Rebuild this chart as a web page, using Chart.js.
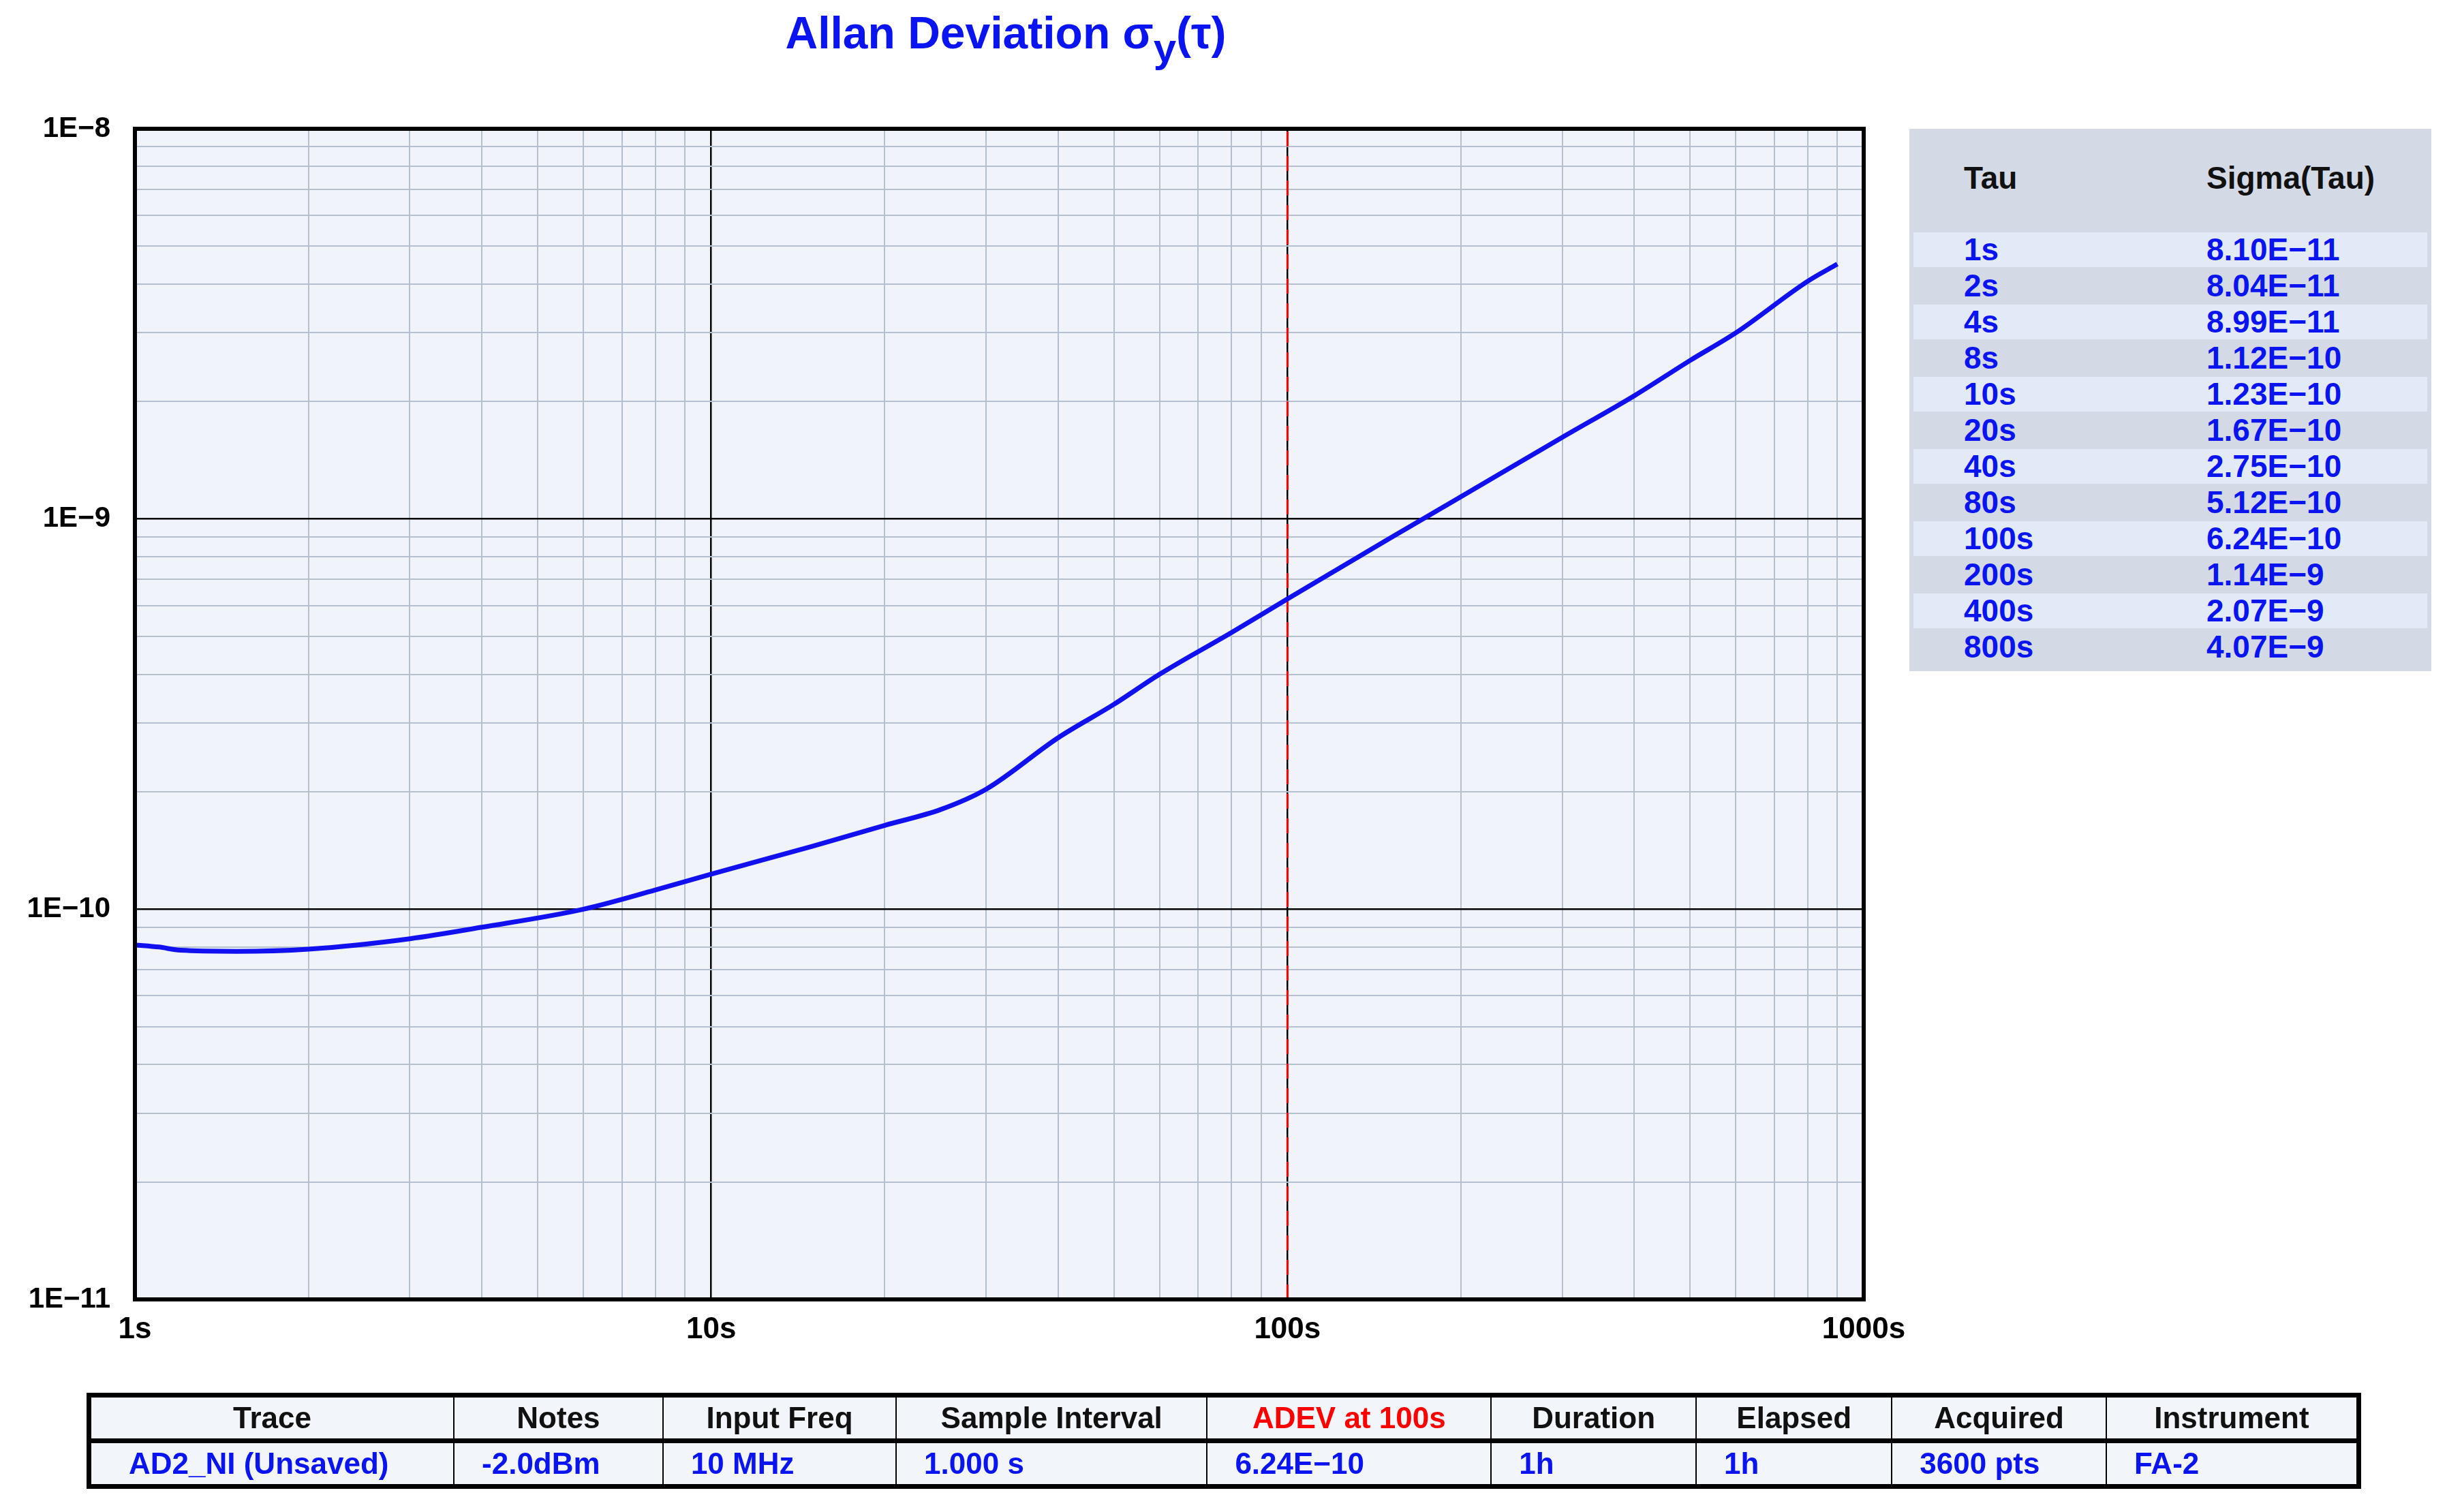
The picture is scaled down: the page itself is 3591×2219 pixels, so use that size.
<!DOCTYPE html>
<html><head><meta charset="utf-8">
<script src="https://cdn.jsdelivr.net/npm/chart.js@4/dist/chart.umd.min.js"></script>
<style>
html,body{margin:0;padding:0;background:#fff;font-family:"Liberation Sans",Arial,sans-serif;}
#wrap{position:relative;width:3591px;height:2219px;}
canvas{position:absolute;left:0;top:0;}
#title{position:absolute;left:0;width:2952px;top:10px;text-align:center;color:#0a14f0;font-weight:bold;font-size:66px;}
#title sub{font-size:60px;vertical-align:-20px;}
#rt{position:absolute;left:2802px;top:189px;width:766px;height:796px;background:#d3dae6;}
#rt .h{position:absolute;top:45px;font-weight:bold;font-size:46px;color:#111;}
#rt .r{position:absolute;left:6px;width:754px;height:51px;}
#rt .r span{position:absolute;top:0;font-weight:bold;font-size:46px;color:#0a14f0;line-height:51px;}
#bt{position:absolute;left:127px;top:2044px;width:3338px;border-collapse:collapse;border:7px solid #000;}
#bt td{border:2px solid #000;font-weight:bold;font-size:44px;height:60px;padding:0 10px;background:#f2f5fa;white-space:nowrap;}
#bt tr.hd td{text-align:center;color:#111;border-bottom:7px solid #000;}
#bt tr.dt td{color:#0a14f0;text-align:left;padding-left:50px;}
</style></head><body>
<div id="wrap">
<canvas id="c" width="3591" height="2219"></canvas>
<div id="title">Allan Deviation σ<sub>y</sub>(τ)</div>
<div id="rt"></div>
<table id="bt"></table>
</div>
<script>
// curve data
const tau = [1,1.1,1.2,1.5,2,3,4,6,8,10,15,20,25,30,40,50,60,80,100,150,200,300,400,500,600,800,900];
const adev = [8.1e-11,8.0e-11,7.85e-11,7.8e-11,7.9e-11,8.4e-11,8.99e-11,1.0e-10,1.12e-10,1.23e-10,1.45e-10,1.64e-10,1.8e-10,2.03e-10,2.75e-10,3.35e-10,4.0e-10,5.12e-10,6.24e-10,8.9e-10,1.14e-9,1.62e-9,2.07e-9,2.55e-9,3.0e-9,4.07e-9,4.5e-9];
const xTickLabels = ['1s','10s','100s','1000s'];
const yTickLabels = ['1E−11','1E−10','1E−9','1E−8'];
const markerTau = 100;
// side table
const tableTau = ['1s','2s','4s','8s','10s','20s','40s','80s','100s','200s','400s','800s'];
const tableSigma = ['8.10E−11','8.04E−11','8.99E−11','1.12E−10','1.23E−10','1.67E−10','2.75E−10','5.12E−10','6.24E−10','1.14E−9','2.07E−9','4.07E−9'];
// bottom table
const infoHeaders = ['Trace','Notes','Input Freq','Sample Interval','ADEV at 100s','Duration','Elapsed','Acquired','Instrument'];
const infoValues = ['AD2_NI (Unsaved)','-2.0dBm','10 MHz','1.000 s','6.24E−10','1h','1h','3600 pts','FA-2'];
const colW = [531,304,345,460,421,302,288,313,374];

const rt = document.getElementById('rt');
rt.innerHTML = '<div class="h" style="left:80px">Tau</div><div class="h" style="left:436px">Sigma(Tau)</div>';
tableTau.forEach((t,i)=>{
  const d=document.createElement('div');d.className='r';
  d.style.top=(148*2.302-189+ i*53)+'px';
  d.style.background = i%2==0?'#e3eaf7':'#d3dae6';
  d.innerHTML='<span style="left:74px">'+t+'</span><span style="left:430px">'+tableSigma[i]+'</span>';
  rt.appendChild(d);
});
const bt=document.getElementById('bt');
let h='<tr class="hd">'+infoHeaders.map((s,i)=>'<td style="width:'+colW[i]+'px;'+(i==4?'color:#f00':'')+'">'+s+'</td>').join('')+'</tr>';
h+='<tr class="dt">'+infoValues.map((s,i)=>'<td style="'+(i==0?'padding-left:55px':'padding-left:40px')+'">'+s+'</td>').join('')+'</tr>';
bt.innerHTML=h;

function logTicks(lo,hi){const a=[];for(let e=lo;e<hi;e++){for(let m=1;m<10;m++)a.push({value:m*Math.pow(10,e)});}a.push({value:Math.pow(10,hi)});return a;}
function isDecade(v){const l=Math.log10(v);return Math.abs(l-Math.round(l))<1e-9;}

const frame={id:'frame',
 beforeDraw(c){const a=c.chartArea,x=c.ctx;x.save();x.fillStyle='#f0f4fa';x.fillRect(a.left,a.top,a.width,a.height);x.restore();},
 afterDraw(c){const a=c.chartArea,x=c.ctx;x.save();x.strokeStyle='#000';x.lineWidth=6;x.strokeRect(a.left,a.top,a.width,a.height);x.restore();}};

new Chart(document.getElementById('c'),{
 type:'line',
 data:{datasets:[
  {data:tau.map((t,i)=>({x:t,y:adev[i]})),borderColor:'#1010f0',borderWidth:7,pointRadius:0,cubicInterpolationMode:'monotone',order:1},
  {data:[{x:markerTau,y:1e-11},{x:markerTau,y:1e-8}],borderColor:'#f00',borderWidth:3,borderDash:[22,14],pointRadius:0,order:2}
 ]},
 options:{responsive:false,animation:false,devicePixelRatio:1,
  layout:{padding:{left:0,top:189,right:3591-2735,bottom:232}},
  plugins:{legend:{display:false},tooltip:{enabled:false}},
  scales:{
   x:{type:'logarithmic',min:1,max:1000,
    afterBuildTicks:s=>{s.ticks=logTicks(0,3);},
    afterFit:s=>{s.height=80;},
    border:{display:false},
    grid:{color:ctx=>isDecade(ctx.tick.value)?'#000':'#b4c0cf',lineWidth:ctx=>isDecade(ctx.tick.value)?2.5:2,drawTicks:false},
    ticks:{autoSkip:false,maxRotation:0,padding:18,color:'#000',font:{family:'Liberation Sans',size:44,weight:'bold'},
     callback:v=>isDecade(v)?xTickLabels[Math.round(Math.log10(v))]:''}},
   y:{type:'logarithmic',min:1e-11,max:1e-8,
    afterBuildTicks:s=>{s.ticks=logTicks(-11,-8);},
    afterFit:s=>{s.width=198;},
    border:{display:false},
    grid:{color:ctx=>isDecade(ctx.tick.value)?'#000':'#b4c0cf',lineWidth:ctx=>isDecade(ctx.tick.value)?2.5:2,drawTicks:false},
    ticks:{autoSkip:false,padding:36,color:'#000',font:{family:'Liberation Sans',size:42,weight:'bold'},
     callback:v=>isDecade(v)?yTickLabels[Math.round(Math.log10(v))+11]:''}}
  }},
 plugins:[frame]
});
</script></body></html>
